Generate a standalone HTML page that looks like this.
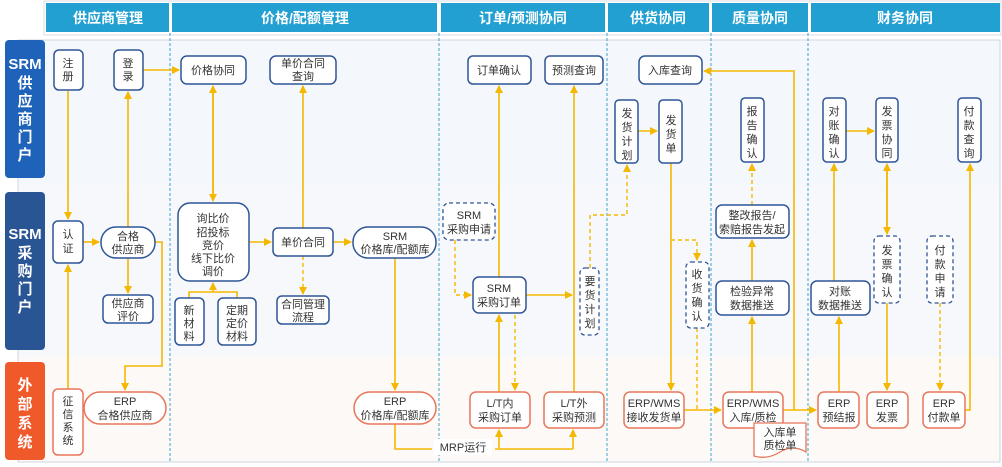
<!DOCTYPE html>
<html><head><meta charset="utf-8"><style>
html,body{margin:0;padding:0;background:#fff;}
svg{display:block;font-family:"Liberation Sans","Noto Sans CJK SC",sans-serif;}
.b{fill:#fff;stroke:#2f5597;stroke-width:1.5;}
.o{fill:#fff;stroke:#e8765a;stroke-width:1.5;}
.d{fill:#fff;stroke:#2f5597;stroke-width:1.3;stroke-dasharray:4 3;}
.l{stroke:#f5b800;stroke-width:1.6;fill:none;}
.ld{stroke:#f5b800;stroke-width:1.4;fill:none;stroke-dasharray:4 3;}
.t{font-size:11px;fill:#333;text-anchor:middle;}
.h{font-size:14px;fill:#fff;font-weight:bold;text-anchor:middle;}
.lane{font-size:15px;fill:#fff;font-weight:bold;text-anchor:middle;}
.v{stroke:#3aa5cf;stroke-width:1;stroke-dasharray:3 2;}
</style></head><body>
<svg width="1002" height="467" viewBox="0 0 1002 467">
<defs>
<marker id="a" markerWidth="8" markerHeight="8" refX="7" refY="4" orient="auto" markerUnits="userSpaceOnUse"><path d="M0,0 L8,4 L0,8 z" fill="#f5b800"/></marker>
</defs>
<!-- headers -->
<rect x="44" y="1" width="957" height="34" fill="#fff" stroke="#d8dde6"/>
<rect x="46" y="3" width="123" height="29" fill="#22a0d1"/>
<rect x="172" y="3" width="265" height="29" fill="#22a0d1"/>
<rect x="441" y="3" width="164" height="29" fill="#22a0d1"/>
<rect x="608" y="3" width="101" height="29" fill="#22a0d1"/>
<rect x="712" y="3" width="96" height="29" fill="#22a0d1"/>
<rect x="811" y="3" width="189" height="29" fill="#22a0d1"/>
<text class="h" x="108" y="23">供应商管理</text>
<text class="h" x="305" y="23">价格/配额管理</text>
<text class="h" x="523" y="23">订单/预测协同</text>
<text class="h" x="658" y="23">供货协同</text>
<text class="h" x="760" y="23">质量协同</text>
<text class="h" x="905" y="23">财务协同</text>
<!-- body -->
<rect x="18" y="40" width="982" height="422" fill="#f4f7fc" stroke="#cfd5de"/>
<rect x="19" y="185" width="980" height="172" fill="#f6f8fc"/>
<rect x="19" y="357" width="980" height="104" fill="#fdf9f6"/>
<line class="v" x1="170" y1="33" x2="170" y2="462"/>
<line class="v" x1="439" y1="33" x2="439" y2="462"/>
<line class="v" x1="607" y1="33" x2="607" y2="462"/>
<line class="v" x1="711" y1="33" x2="711" y2="462"/>
<line class="v" x1="808" y1="33" x2="808" y2="462"/>
<!-- lanes -->
<rect x="5" y="40" width="40" height="138" rx="4" fill="#1e62b9"/>
<rect x="5" y="192" width="40" height="158" rx="4" fill="#2a5594"/>
<rect x="5" y="362" width="40" height="98" rx="4" fill="#f0592a"/>
<g class="lane"><text x="25" y="69">SRM</text><text x="25" y="88">供</text><text x="25" y="106">应</text><text x="25" y="124">商</text><text x="25" y="142">门</text><text x="25" y="160">户</text>
<text x="25" y="239">SRM</text><text x="25" y="258">采</text><text x="25" y="276">购</text><text x="25" y="294">门</text><text x="25" y="312">户</text>
<text x="25" y="390">外</text><text x="25" y="409">部</text><text x="25" y="428">系</text><text x="25" y="447">统</text></g>

<!-- connectors -->
<g>
<path class="l" d="M68,91 V219" marker-end="url(#a)"/>
<path class="l" d="M83,242 H99" marker-end="url(#a)"/>
<path class="l" d="M128,228 V92" marker-end="url(#a)"/>
<path class="l" d="M143,70 H179" marker-end="url(#a)"/>
<path class="l" d="M155,242 H162 V366 H125 V390" marker-end="url(#a)"/>
<path class="l" d="M128,258 V293" marker-end="url(#a)"/>
<path class="l" d="M68,389 V265" marker-end="url(#a)"/>
<path class="l" d="M213,92 V201" marker-end="url(#a)"/>
<path class="l" d="M213,198 V86" marker-end="url(#a)"/>
<path class="l" d="M189,298 V292 H237 V298"/>
<path class="l" d="M213,292 V283" marker-end="url(#a)"/>
<path class="l" d="M249,242 H271" marker-end="url(#a)"/>
<path class="l" d="M303,228 V86" marker-end="url(#a)"/>
<path class="ld" d="M303,256 V294" marker-end="url(#a)"/>
<path class="l" d="M333,242 H351" marker-end="url(#a)"/>
<path class="l" d="M395,258 V390" marker-end="url(#a)"/>
<path class="l" d="M395,424 V449 H432"/>
<path class="l" d="M495,449 H573"/>
<path class="l" d="M499,449 V430" marker-end="url(#a)"/>
<path class="l" d="M573,449 V430" marker-end="url(#a)"/>
<path class="l" d="M499,392 V315" marker-end="url(#a)"/>
<path class="ld" d="M515,315 V390" marker-end="url(#a)"/>
<path class="l" d="M499,277 V86" marker-end="url(#a)"/>
<path class="ld" d="M455,240 V295 H471" marker-end="url(#a)"/>
<path class="l" d="M526,295 H572" marker-end="url(#a)"/>
<path class="l" d="M574,392 V86" marker-end="url(#a)"/>
<path class="ld" d="M590,268 V215 H627 V165" marker-end="url(#a)"/>
<path class="l" d="M638,131 H657" marker-end="url(#a)"/>
<path class="l" d="M671,163 V390" marker-end="url(#a)"/>
<path class="ld" d="M671,240 H697 V260" marker-end="url(#a)"/>
<path class="ld" d="M697,328 V410"/>
<path class="l" d="M684,410 H721" marker-end="url(#a)"/>
<path class="l" d="M752,392 V317" marker-end="url(#a)"/>
<path class="l" d="M752,281 V240" marker-end="url(#a)"/>
<path class="ld" d="M752,205 V164" marker-end="url(#a)"/>
<path class="l" d="M794,410 V71 H704" marker-end="url(#a)"/>
<path class="l" d="M783,410 H816" marker-end="url(#a)"/>
<path class="l" d="M839,392 V317" marker-end="url(#a)"/>
<path class="l" d="M834,281 V164" marker-end="url(#a)"/>
<path class="l" d="M846,131 H874" marker-end="url(#a)"/>
<path class="l" d="M887,170 V234" marker-end="url(#a)"/>
<path class="l" d="M887,230 V164" marker-end="url(#a)"/>
<path class="l" d="M887,303 V390" marker-end="url(#a)"/>
<path class="ld" d="M940,303 V390" marker-end="url(#a)"/>
<path class="l" d="M965,410 H970 V164" marker-end="url(#a)"/>
</g>
<rect x="434" y="439" width="58" height="16" fill="#fff"/>
<text class="t" x="463" y="451">MRP运行</text>

<!-- nodes -->
<rect class="b" x="54" y="50" width="29" height="40" rx="5"/><text class="t" x="68" y="67">注</text><text class="t" x="68" y="80">册</text>
<rect class="b" x="114" y="50" width="29" height="40" rx="5"/><text class="t" x="128" y="67">登</text><text class="t" x="128" y="80">录</text>
<rect class="b" x="181" y="56" width="65" height="28" rx="6"/><text class="t" x="213" y="74">价格协同</text>
<rect class="b" x="270" y="56" width="66" height="28" rx="6"/><text class="t" x="303" y="67">单价合同</text><text class="t" x="303" y="80">查询</text>
<rect class="b" x="53" y="221" width="30" height="42" rx="5"/><text class="t" x="68" y="238">认</text><text class="t" x="68" y="252">证</text>
<rect class="b" x="101" y="227" width="54" height="31" rx="15"/><text class="t" x="128" y="240">合格</text><text class="t" x="128" y="253">供应商</text>
<rect class="b" x="178" y="203" width="71" height="78" rx="12"/><text class="t" x="213" y="222">询比价</text><text class="t" x="213" y="236">招投标</text><text class="t" x="213" y="249">竞价</text><text class="t" x="213" y="262">线下比价</text><text class="t" x="213" y="275">调价</text>
<rect class="b" x="273" y="228" width="60" height="28" rx="5"/><text class="t" x="303" y="246">单价合同</text>
<rect class="b" x="353" y="227" width="83" height="31" rx="15"/><text class="t" x="395" y="240">SRM</text><text class="t" x="395" y="253">价格库/配额库</text>
<rect class="b" x="103" y="295" width="50" height="28" rx="5"/><text class="t" x="128" y="307">供应商</text><text class="t" x="128" y="320">评价</text>
<rect class="b" x="175" y="298" width="29" height="47" rx="5"/><text class="t" x="189" y="314">新</text><text class="t" x="189" y="327">材</text><text class="t" x="189" y="340">料</text>
<rect class="b" x="218" y="298" width="38" height="47" rx="5"/><text class="t" x="237" y="314">定期</text><text class="t" x="237" y="327">定价</text><text class="t" x="237" y="340">材料</text>
<rect class="b" x="277" y="296" width="52" height="28" rx="5"/><text class="t" x="303" y="308">合同管理</text><text class="t" x="303" y="321">流程</text>
<rect class="o" x="53" y="389" width="30" height="66" rx="5"/><text class="t" x="68" y="405">征</text><text class="t" x="68" y="418">信</text><text class="t" x="68" y="431">系</text><text class="t" x="68" y="444">统</text>
<rect class="o" x="84" y="392" width="82" height="32" rx="16"/><text class="t" x="125" y="405">ERP</text><text class="t" x="125" y="419">合格供应商</text>
<rect class="o" x="354" y="392" width="82" height="32" rx="16"/><text class="t" x="395" y="405">ERP</text><text class="t" x="395" y="419">价格库/配额库</text>

<rect class="b" x="468" y="56" width="63" height="28" rx="5"/><text class="t" x="499" y="74">订单确认</text>
<rect class="b" x="545" y="56" width="58" height="28" rx="5"/><text class="t" x="574" y="74">预测查询</text>
<rect class="d" x="443" y="203" width="52" height="37" rx="6"/><text class="t" x="469" y="219">SRM</text><text class="t" x="469" y="233">采购申请</text>
<rect class="b" x="473" y="277" width="53" height="36" rx="6"/><text class="t" x="499" y="292">SRM</text><text class="t" x="499" y="306">采购订单</text>
<rect class="d" x="580" y="268" width="19" height="67" rx="5"/><text class="t" x="590" y="285">要</text><text class="t" x="590" y="299">货</text><text class="t" x="590" y="313">计</text><text class="t" x="590" y="327">划</text>
<rect class="o" x="470" y="392" width="60" height="36" rx="6"/><text class="t" x="500" y="407">L/T内</text><text class="t" x="500" y="421">采购订单</text>
<rect class="o" x="544" y="392" width="60" height="36" rx="6"/><text class="t" x="574" y="407">L/T外</text><text class="t" x="574" y="421">采购预测</text>

<rect class="b" x="639" y="56" width="63" height="28" rx="6"/><text class="t" x="670" y="74">入库查询</text>
<rect class="b" x="615" y="100" width="23" height="63" rx="4"/><text class="t" x="627" y="117">发</text><text class="t" x="627" y="131">货</text><text class="t" x="627" y="145">计</text><text class="t" x="627" y="159">划</text>
<rect class="b" x="659" y="100" width="23" height="63" rx="4"/><text class="t" x="671" y="124">发</text><text class="t" x="671" y="138">货</text><text class="t" x="671" y="152">单</text>
<rect class="d" x="686" y="262" width="23" height="66" rx="5"/><text class="t" x="697" y="278">收</text><text class="t" x="697" y="292">货</text><text class="t" x="697" y="306">确</text><text class="t" x="697" y="320">认</text>
<rect class="o" x="624" y="392" width="60" height="36" rx="6"/><text class="t" x="654" y="407">ERP/WMS</text><text class="t" x="654" y="421">接收发货单</text>

<rect class="b" x="741" y="98" width="23" height="64" rx="4"/><text class="t" x="752" y="115">报</text><text class="t" x="752" y="129">告</text><text class="t" x="752" y="143">确</text><text class="t" x="752" y="157">认</text>
<rect class="b" x="716" y="205" width="73" height="33" rx="6"/><text class="t" x="752" y="219">整改报告/</text><text class="t" x="752" y="233">索赔报告发起</text>
<rect class="b" x="716" y="281" width="73" height="34" rx="6"/><text class="t" x="752" y="295">检验异常</text><text class="t" x="752" y="309">数据推送</text>
<rect class="o" x="723" y="392" width="60" height="36" rx="6"/><text class="t" x="753" y="407">ERP/WMS</text><text class="t" x="753" y="421">入库/质检</text>
<path d="M754,423 H806 V452 Q793,444 780,452 T754,456 Z" fill="#fff" stroke="#e8765a" stroke-width="1.3"/><text class="t" x="780" y="436">入库单</text><text class="t" x="780" y="449">质检单</text>

<rect class="b" x="823" y="98" width="23" height="64" rx="4"/><text class="t" x="834" y="115">对</text><text class="t" x="834" y="129">账</text><text class="t" x="834" y="143">确</text><text class="t" x="834" y="157">认</text>
<rect class="b" x="876" y="98" width="22" height="64" rx="4"/><text class="t" x="887" y="115">发</text><text class="t" x="887" y="129">票</text><text class="t" x="887" y="143">协</text><text class="t" x="887" y="157">同</text>
<rect class="b" x="958" y="98" width="23" height="64" rx="4"/><text class="t" x="969" y="115">付</text><text class="t" x="969" y="129">款</text><text class="t" x="969" y="143">查</text><text class="t" x="969" y="157">询</text>
<rect class="d" x="874" y="236" width="26" height="67" rx="5"/><text class="t" x="887" y="254">发</text><text class="t" x="887" y="268">票</text><text class="t" x="887" y="282">确</text><text class="t" x="887" y="296">认</text>
<rect class="d" x="927" y="236" width="26" height="67" rx="5"/><text class="t" x="940" y="254">付</text><text class="t" x="940" y="268">款</text><text class="t" x="940" y="282">申</text><text class="t" x="940" y="296">请</text>
<rect class="b" x="811" y="281" width="59" height="34" rx="6"/><text class="t" x="840" y="295">对账</text><text class="t" x="840" y="309">数据推送</text>
<rect class="o" x="818" y="392" width="41" height="36" rx="6"/><text class="t" x="839" y="407">ERP</text><text class="t" x="839" y="421">预结报</text>
<rect class="o" x="867" y="392" width="41" height="36" rx="6"/><text class="t" x="887" y="407">ERP</text><text class="t" x="887" y="421">发票</text>
<rect class="o" x="923" y="392" width="42" height="36" rx="6"/><text class="t" x="944" y="407">ERP</text><text class="t" x="944" y="421">付款单</text>
</svg>
</body></html>
